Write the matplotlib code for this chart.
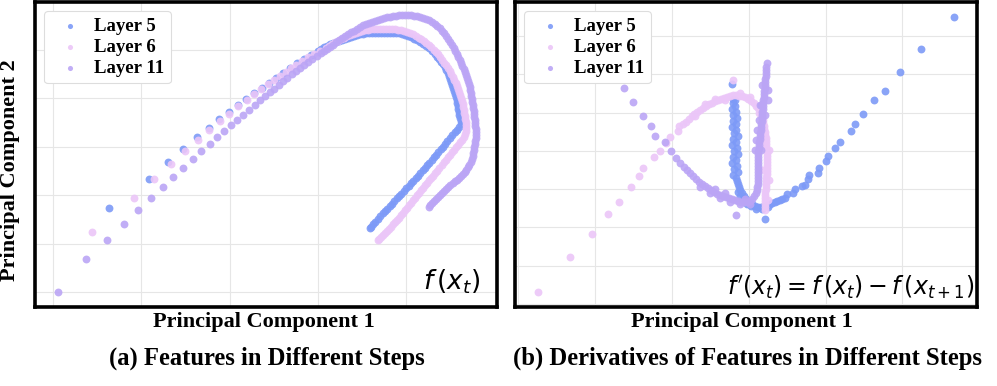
import matplotlib
matplotlib.use("Agg")
import matplotlib.pyplot as plt

# ---------------- data ----------------
labels = ["Layer 5", "Layer 6", "Layer 11"]
colors = ["#7d9af7", "#ebc6f8", "#bba5f5"]

# Panel (a): features f(x_t)
a_l5_x = [109,149,168,183,197,209,219,229,238,246,254,262,269,276,283,290,297,304,311,
          318,321,324,327,330,333,336,339,342,345,348,351,354,357,360,363,366,369,372,375,
          378,381,384,387,390,393,396,399,402,405,408,411,414,417,420,423,426,429,432,435,
          437,439,441,443,445,446,448,449,450,451,452,453,454,455,456,457,457,458,458,459,
          459,460,461,461,
          459,457,455,452,450,447,445,443,441,438,436,434,432,429,427,425,423,420,418,416,
          413,411,409,406,404,401,399,397,394,392,390,387,385,383,380,378,375,373,371,370]
a_l5_y = [92,121,138,151,163,172,181,188,195,201,207,212,217,222,227,232,237,241,245,
          249,251,253,254,256,257,258,259,260,261,262,263,264,265,266,266,267,267,267,267,
          267,267,267,267,267,267,267,267,266,265,264,263,261,260,258,256,254,252,249,246,
          243,241,238,236,233,230,227,224,221,218,215,212,209,206,203,200,197,194,191,188,
          185,182,179,176,
          173,170,168,165,162,159,156,153,151,148,145,143,140,137,135,132,130,127,124,122,
          119,117,114,112,109,106,104,102,99,96,94,91,89,87,84,81,78,76,73,72]

a_l6_x = [92,134,154,171,185,198,209,220,229,238,247,254,261,268,274,280,286,291,296,302,
          308,314,320,
          326,329,332,335,338,341,344,347,350,353,356,359,362,365,368,371,374,377,380,383,
          386,389,392,395,398,401,404,407,410,413,416,419,421,424,426,429,431,434,436,438,
          440,442,444,446,448,450,451,453,454,456,457,458,459,460,461,462,463,463,464,464,
          465,465,466,466,466,466,465,464,462,460,458,456,454,452,450,448,446,444,442,439,
          437,435,433,431,429,427,425,423,421,419,417,415,413,411,409,407,405,403,401,399,
          397,395,393,391,389,387,385,383,381,379,378]
a_l6_y = [68,102,121,136,149,160,170,179,186,194,200,206,211,216,220,224,228,232,235,239,
          243,246,249,
          252,254,256,258,259,261,262,264,265,266,267,268,269,270,270,271,271,271,271,271,
          271,271,271,271,270,270,269,268,267,266,264,262,261,259,257,255,253,250,248,246,
          243,240,237,235,232,229,226,223,220,217,214,211,208,205,202,199,196,193,190,187,
          184,181,178,175,172,169,166,163,160,158,155,153,150,148,145,143,140,138,135,132,
          129,127,124,122,120,117,115,112,110,107,105,102,100,97,95,92,90,87,85,82,
          80,78,76,73,71,69,67,65,63,61,60]

a_l11_x = [58,86,107,124,138,151,163,173,183,193,201,210,217,224,231,237,243,249,255,260,
           265,270,274,279,283,287,292,296,300,304,308,312,317,
           321,324,327,330,333,336,339,342,345,348,351,354,357,360,363,366,369,372,375,378,
           381,384,387,390,393,396,399,402,405,408,411,414,417,420,423,426,429,432,435,437,
           440,442,444,446,448,450,452,454,455,457,458,460,461,462,464,465,466,467,468,469,
           470,470,471,471,472,472,473,473,474,474,474,475,475,475,476,476,476,476,475,475,
           474,474,473,473,472,471,469,468,466,465,463,461,459,457,455,453,450,448,446,444,
           442,440,438,436,434,432,430,429]
a_l11_y = [8,41,60,76,90,102,113,123,132,141,149,156,163,169,175,180,185,190,195,200,
           204,208,211,215,219,222,226,229,232,235,238,241,244,
           247,249,251,253,255,258,260,262,264,266,268,269,271,273,275,276,277,278,279,280,
           281,282,283,283,284,284,285,285,285,285,285,284,284,283,282,281,280,278,276,274,
           272,269,267,264,261,258,255,252,249,246,243,240,237,234,231,228,225,222,219,216,
           213,210,207,204,201,198,195,192,189,186,183,180,177,174,171,168,165,162,159,156,
           153,150,147,144,141,138,135,133,130,128,126,124,122,120,119,117,115,113,111,109,
           107,105,103,101,99,97,95,93]

# Panel (b): derivatives f'(x_t)
b_l5_x = [454,421,400,385,374,363,355,351,340,335,328,326,319,318,309,308,305,302,295,293,
          287,285,282,280,277,275,272,270,267,264,261,258,255,252,249,246,244,242,240,239,
          238,237,265,232,
          236,233,238,234,237,232,236,233,238,234,237,232,236,233,238,234,236,232,236,233,
          237,233,236,232,235,233,235,233,
          243,247,251,240,238,256,262,268]
b_l5_y = [283,251,228,209,200,186,176,169,158,152,144,139,132,127,125,121,115,114,111,107,
          106,102,101,100,99,98,97,96,95,94,93,93,94,96,98,101,104,107,110,113,
          116,119,81,216,
          122,125,128,131,134,137,140,143,146,149,152,155,158,161,164,167,170,173,176,179,
          182,185,188,191,194,197,200,201,
          99,96,94,104,108,91,91,93]

b_l6_x = [38,70,92,108,119,131,139,143,154,160,166,170,178,179,183,
          186,189,192,194,197,200,203,206,209,212,215,218,221,224,227,230,233,236,239,242,
          245,248,251,254,256,258,260,261,262,263,263,264,264,265,265,266,266,266,266,267,
          267,267,267,267,267,267,267,267,266,266,266,266,266,265,265,265,265,265,265,265,
          195,205,215,225,240,250,259,262,269,269,263,268,233]
b_l6_y = [8,43,66,86,98,113,124,132,143,149,157,163,169,174,176,
          178,181,184,186,188,190,192,194,196,197,199,200,201,202,203,204,205,205,204,204,
          203,201,199,197,194,192,189,186,183,180,177,174,171,168,165,162,159,156,153,150,
          147,144,141,138,135,132,129,126,123,120,117,114,111,108,105,102,99,96,93,90,
          184,196,201,200,207,203,187,168,150,120,130,100,220]

b_l11_x = [124,133,143,151,155,165,171,176,180,
           184,187,190,193,196,199,202,205,208,211,214,217,220,223,226,229,232,235,238,241,
           244,247,250,252,254,256,257,257,258,258,258,258,258,258,258,258,258,258,258,258,
           259,259,259,260,260,260,261,261,261,262,262,262,262,263,263,263,263,264,264,264,
           265,265,265,265,266,266,266,266,267,236,
           200,210,220,230,240,225,215,245,250,255,256,257,259,261,261,262,268,268,260,265]
b_l11_y = [212,198,184,174,164,158,149,142,137,
           133,130,127,124,121,118,116,114,112,110,108,106,105,104,103,102,101,100,99,98,
           98,98,99,101,104,107,110,113,116,119,122,125,128,131,134,137,140,143,146,149,
           152,155,158,161,164,167,170,173,176,179,182,185,188,191,194,197,200,203,206,209,
           212,215,218,221,224,227,230,233,237,85,
           113,107,102,98,96,107,111,101,96,150,160,170,180,195,150,215,210,200,195,185]

# ---------------- figure ----------------
fig = plt.figure(figsize=(9.97, 3.86), dpi=100)
ax_a = fig.add_axes([35/997, 79/386, 462/997, 305/386])
ax_b = fig.add_axes([515/997, 79/386, 462/997, 305/386])

serif_bold = {"family": "Liberation Serif", "weight": "bold"}

def style(ax, xticks, yticks, xlim, ylim):
    ax.set_xlim(*xlim)
    ax.set_ylim(*ylim)
    ax.set_xticks(xticks)
    ax.set_yticks(yticks)
    ax.grid(True, color="#e6e6e6", linewidth=0.8)
    ax.set_axisbelow(True)
    ax.tick_params(length=0, labelbottom=False, labelleft=False)
    for sp in ax.spines.values():
        sp.set_linewidth(2.6)
        sp.set_color("black")

s = 32
for ax, xs, ys in ((ax_a, (a_l5_x, a_l6_x, a_l11_x), (a_l5_y, a_l6_y, a_l11_y)),
                   (ax_b, (b_l5_x, b_l6_x, b_l11_x), (b_l5_y, b_l6_y, b_l11_y))):
    for x, y, c, lab in zip(xs, ys, colors, labels):
        ax.scatter(x, y, s=s, color=c, alpha=0.9, linewidths=0, label=lab)

style(ax_a, [53 + 88.25 * k for k in range(5)], [8 + 48.4 * k for k in range(6)],
      (35, 497), (-7, 298))
style(ax_b, [18.3 + 76.8 * k for k in range(6)], [-4 + 38.3 * k for k in range(8)],
      (15, 477), (-7, 298))

for ax in (ax_a, ax_b):
    leg = ax.legend(loc="upper left", prop={**serif_bold, "size": 13.5},
                    handletextpad=0.3, borderpad=0.35, labelspacing=0.2,
                    markerscale=0.65, fancybox=True, framealpha=1,
                    bbox_to_anchor=(0.0, 1.0), borderaxespad=0.5)
    leg.get_frame().set_edgecolor("#dddddd")
    leg.get_frame().set_linewidth(0.8)

ax_a.text(0.965, 0.035, r"$f\,(x_t)$", transform=ax_a.transAxes, ha="right", va="bottom",
          fontsize=19)
ax_b.text(0.995, 0.02, r"$f^{\prime}(x_t) = f\,(x_t) - f\,(x_{t+1})$", transform=ax_b.transAxes,
          ha="right", va="bottom", fontsize=17)

fig.text(264/997, 1 - 322/386, "Principal Component 1", ha="center", va="center",
         fontsize=16, **serif_bold)
fig.text(742/997, 1 - 322/386, "Principal Component 1", ha="center", va="center",
         fontsize=16, **serif_bold)
fig.text(10/997, 1 - 170/386, "Principal Component 2", ha="center", va="center",
         rotation=90, fontsize=16, **serif_bold)
fig.text(267/997, 1 - 358/386, "(a) Features in Different Steps", ha="center", va="center",
         fontsize=17.7, **serif_bold)
fig.text(747/997, 1 - 358/386, "(b) Derivatives of Features in Different Steps", ha="center",
         va="center", fontsize=17.7, **serif_bold)

fig.savefig("out.png", dpi=100)
